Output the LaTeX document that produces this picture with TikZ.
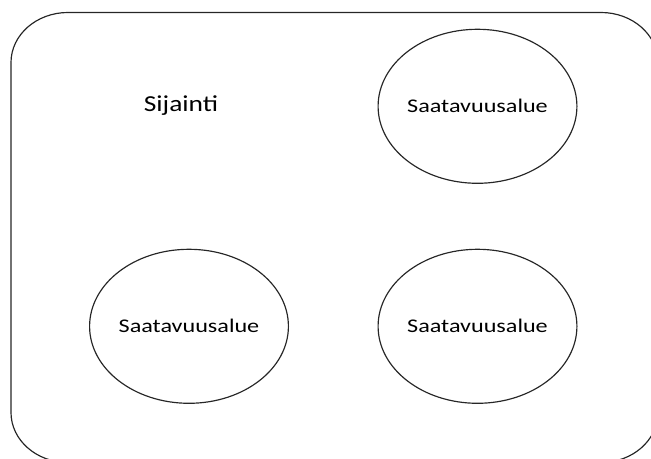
\documentclass[tikz,border=0pt]{standalone}
\usepackage{fontspec}
\setmainfont{Carlito}
\usetikzlibrary{shapes.geometric}
\newcommand\widetext[2]{\scalebox{#1}[1]{#2}}
\begin{document}
\begin{tikzpicture}[x=0.03cm,y=0.03cm,line cap=round,line join=round,
	area/.style={draw=black!85,line width=1pt,ellipse,inner sep=0pt,minimum width=5.7cm,minimum height=4.62cm,font=\fontsize{16.5}{18}\selectfont},
	frame/.style={draw=black!85,line width=1pt}]
	\useasboundingbox (0,0) rectangle (651,459);
	\def\rx{57}\def\ry{50}
	% outer frame with rounded corners
	\draw[frame] (11,46.5) -- (11,396.5) arc[start angle=180,end angle=90,x radius=\rx,y radius=\ry]
		-- (601,446.5) arc[start angle=90,end angle=0,x radius=\rx,y radius=\ry]
		-- (658,46.5) arc[start angle=0,end angle=-90,x radius=\rx,y radius=\ry]
		-- (68,-3.5) arc[start angle=270,end angle=180,x radius=\rx,y radius=\ry] -- cycle;
	\node[font=\fontsize{19.5}{22}\selectfont] (loc) at (181,353) {\widetext{1.2}{Sijainti}};
	\node[area] (area1) at (477.5,352.7) {\widetext{1.25}{Saatavuusalue}};
	\foreach \x/\n in{189/2,477.5/3}{\node[area] (area\n) at (\x,132.7) {\widetext{1.25}{Saatavuusalue}};}
\end{tikzpicture}
\end{document}
